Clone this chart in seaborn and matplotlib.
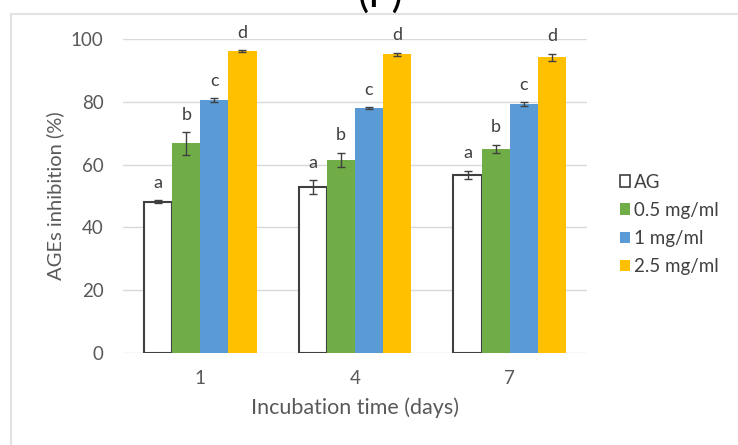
import matplotlib
matplotlib.use("Agg")
import matplotlib.pyplot as plt
import seaborn as sns
import pandas as pd
import numpy as np
from matplotlib.patches import Patch, Rectangle

days = ["1", "4", "7"]
treatments = ["AG", "0.5 mg/ml", "1 mg/ml", "2.5 mg/ml"]
ag = [48.2, 52.8, 56.7]
c05 = [66.8, 61.5, 65.0]
c1 = [80.5, 77.9, 79.2]
c25 = [96.2, 95.1, 94.2]
ag_err = [0.5, 2.3, 1.4]
c05_err = [3.6, 2.3, 1.3]
c1_err = [0.7, 0.3, 0.6]
c25_err = [0.3, 0.5, 1.1]
letters = ["a", "b", "c", "d"]

values = [ag, c05, c1, c25]
errors = [ag_err, c05_err, c1_err, c25_err]
colors = ["#FFFFFF", "#70AD47", "#5B9BD5", "#FFC000"]

rows = []
for t, vals, errs in zip(treatments, values, errors):
    for d, v, e in zip(days, vals, errs):
        rows.append({"day": d, "treatment": t, "value": v, "err": e})
df = pd.DataFrame(rows)

sns.set_style("white")
plt.rcParams["font.family"] = ["Lato", "DejaVu Sans"]

fig = plt.figure(figsize=(7.38, 4.45), dpi=100)
W, H = 738, 445
ax = fig.add_axes([123 / W, 1 - 353 / H, (587 - 123) / W, (353 - 39) / H])

sns.barplot(data=df, x="day", y="value", hue="treatment", order=days,
            hue_order=treatments, palette=colors, width=0.727, gap=0,
            errorbar=None, ax=ax, legend=False, saturation=1)

for i, t in enumerate(treatments):
    cont = ax.containers[i]
    for j, bar in enumerate(cont):
        if i == 0:
            bar.set_edgecolor("#404040")
            bar.set_linewidth(1.5)
        else:
            bar.set_linewidth(0)
        cx = bar.get_x() + bar.get_width() / 2
        v = values[i][j]
        e = errors[i][j]
        ax.errorbar(cx, v, yerr=e, fmt="none", ecolor="#404040",
                    elinewidth=1, capsize=3, capthick=1, zorder=5)
        ax.text(cx, v + e + 3.0, letters[i], ha="center", va="bottom",
                fontsize=13, color="#404040", clip_on=False)

ax.set_ylim(0, 100)
ax.set_xlim(-0.5, 2.5)
ax.set_yticks([0, 20, 40, 60, 80, 100])
ax.yaxis.grid(True, color="#D9D9D9", linewidth=1)
ax.set_axisbelow(True)
for s in ax.spines.values():
    s.set_visible(False)
ax.tick_params(axis="both", length=0, labelsize=13.5, colors="#595959")
ax.tick_params(axis="y", pad=14)
ax.tick_params(axis="x", pad=12)
ax.set_xlabel("Incubation time (days)", fontsize=15.5, color="#595959", labelpad=8)
ax.set_ylabel("AGEs inhibition (%)", fontsize=14.5, color="#595959", labelpad=5)

handles = []
for t, c in zip(treatments, colors):
    if t == "AG":
        handles.append(Patch(facecolor=c, edgecolor="#404040", linewidth=1.2, label=t))
    else:
        handles.append(Patch(facecolor=c, edgecolor="none", label=t))
leg = fig.legend(handles=handles, loc="upper left", bbox_to_anchor=(612 / W, 1 - 166 / H),
                 frameon=False, fontsize=13.5, handlelength=0.55, handleheight=0.55,
                 handletextpad=0.2, labelspacing=0.6, borderaxespad=0)
for txt in leg.get_texts():
    txt.set_color("#404040")

fig.patches.append(Rectangle((11 / W, -0.1), 1.0, 1 - 14 / H + 0.1, transform=fig.transFigure,
                             fill=False, edgecolor="#E3E3E3", linewidth=1.5))
fig.text(380 / W, 1 - 7 / H, "(F)", ha="center", va="baseline", fontsize=30, color="black")

fig.savefig("out.png", dpi=100)
